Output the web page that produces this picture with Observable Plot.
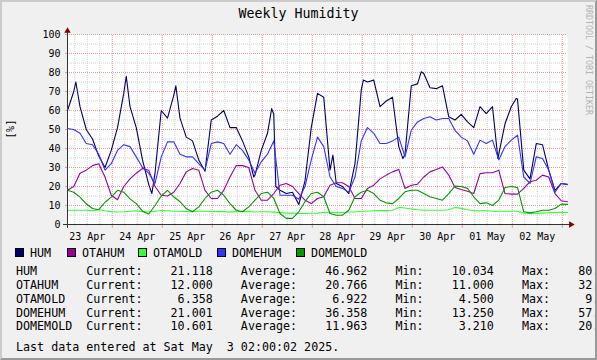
<!DOCTYPE html>
<html><head><meta charset="utf-8">
<script src="https://cdn.jsdelivr.net/npm/d3@7"></script>
<script src="https://cdn.jsdelivr.net/npm/@observablehq/plot@0.6"></script>
<style>
html,body{margin:0;padding:0;background:#f0f0f0;}
#wrap{position:relative;width:597px;height:360px;overflow:hidden;background:#f0f0f0;font-family:"DejaVu Sans Mono",monospace;color:#000;}
#wrap svg{position:absolute;left:0;top:0;}
.t{position:absolute;white-space:pre;font-size:11.68px;line-height:14px;}
.box{position:absolute;width:7px;height:7px;border:1px solid #000;}
#border{position:absolute;left:0;top:0;width:597px;height:360px;box-sizing:border-box;border-style:solid;border-width:2px;border-color:#cbcbcb #999 #999 #cbcbcb;pointer-events:none;}
</style></head>
<body><div id="wrap"></div>
<script>
// ---- data (hours after 23 Apr 02:30) ----
const gridHours = d3.range(81).map(i => i * 3);
const humHours = [0,3,4,6,9,12,15,18,21,24,27,28.2,30,33,36,39,40.5,42,45,48,51,52,54,57,60,63,66,69,72,75,78,81,84,87,89.4,90,93,96,98,99,100,102,105,108,111,114,117,120,123,126,127.4,129,132,135,138,141,142,144,147,150,153,156,159,161,162,165,168,169.8,171,174,177,180,183,186,189,192,195,198,201,204,206.6,207,210,213,215.4,216,219,222,225,228,231,234,237,240];
const humValues = [60,70,75,62,50,45,36,30,39,51,69,78,62,51,34,21,16.3,27,60,56,68,73,56,46,44,34,28,55,57,60,51,51,44,35.6,25,26,39,48,61,58,20,18,16.3,17,10.5,23,51,69,67,28.6,36.5,21.6,20,16.3,32,70.7,76,75,76,62,65,67,41,34.7,37,73,74,80.4,79.5,72,71.5,73,56.7,55,58,54,51,62,58.4,62,34.7,37,53,62,66.3,66,28.6,24,42.6,42,28.6,18,21.6,21.1];
const otaHum = [18,20,27,28.6,31,32,25,15.4,13,20,24,27,29.5,28.6,20,15.4,15,
  17,21.6,27.7,29.5,28.6,18,13.7,13.7,18,25,31,31,30,18,12.8,12.8,
  16.3,20.7,21.6,20,16.3,12.8,11,13.7,14.6,20.7,22,22,20,13.7,13.7,19,
  20.7,24,26,27.7,29,19,20.7,21.2,25,27.7,29,30.3,26,19.5,18.4,17.5,
  16.3,26.8,27.2,27.2,28.6,16.3,16,16,19,22.5,23.3,26,25,16.3,12.5,12];
const otaMold = [7.5,7.5,7.5,7.5,7.3,7.8,7.2,6.8,6.6,6.7,7.0,7.2,6.8,6.6,7.0,7.4,7.2,
  7.0,7.0,6.8,6.8,7.0,7.0,6.9,6.8,6.8,6.5,6.8,7.0,6.8,6.6,6.7,6.7,
  6.5,6.3,6.0,6.0,5.8,5.8,5.9,6.0,6.3,6.3,6.3,6.3,6.6,6.6,7.0,7.0,
  7.2,7.3,7.3,7.5,9.0,8.7,8.2,7.8,7.5,7.5,7.5,7.5,7.8,9.0,8.5,7.8,
  7.3,7.2,7.2,7.0,7.0,7.0,7.0,7.0,6.0,5.8,5.8,6.0,6.2,6.3,6.4,6.36];
const domeHum = [50.5,50,48,42.6,42,37,28.6,32,39,42,41,35.6,30,27,21.6,35.6,43.5,
  43.5,37,35.6,35.6,32,28.6,42.6,43.5,42.6,37,42,39,34,27,33,37,
  44,15.4,15.4,15.4,13.3,20,34,46,41,25,20,19,17,25,44,51,
  48,42.6,42.6,44,46,35.6,49.6,54,55.8,56.7,55,55.8,55.8,49.6,46,44,
  37,44.4,42.6,44.4,34,41,44.4,47,25,21.6,35.6,34.7,28.6,17,21.6,21.0];
const domeMold = [18,17,14.4,10.9,8.4,7.8,11.7,14.4,18,17,13.5,11,7,5.5,10,15,18,
  14.6,12,8.4,6.7,9.3,13.7,17,18,15.4,11,7.5,6.7,9.3,12.8,16.3,17,
  13.7,5.8,3.2,3.2,6.7,12,16.3,17,14.6,5.8,4.9,4.9,7.5,14.6,17,18,
  16.3,12.8,11.4,11,13.7,17.2,18,18,16.3,14.6,13.7,12.8,16.3,20.2,20,19,
  14.6,11,11.4,10,12.8,19.5,20,19.5,6.7,6.1,6.7,7.5,7.5,8.4,10.7,10.6];

const names = ["HUM","OTAHUM","OTAMOLD","DOMEHUM","DOMEMOLD"];
const colors = ["#000066","#990099","#33ff33","#3333ff","#009900"];
const current = [21.118,12.000,6.358,21.001,10.601];
const average = [46.962,20.766,6.922,36.358,11.963];
const minimum = [10.034,11.000,4.500,13.250,3.210];
const maximum = [80.402,32.000,9.625,57.312,20.410];
const yTicks = [0,10,20,30,40,50,60,70,80,90,100];
const title = "Weekly Humidity";
const yLabel = "[%]";
const lastData = "Last data entered at Sat May  3 02:00:02 2025.";
const watermark = "RRDTOOL / TOBI OETIKER";

// ---- build ----
const H = 3600000;
const t0 = Date.UTC(2025,3,23,2,30);
const t1 = t0 + 240*H;
const T = h => new Date(t0 + h*H);
const mk = (hours, vals) => hours.map((h,i) => ({t: T(h), v: vals[i]}));
const series = [
  mk(humHours, humValues),
  mk(gridHours, otaHum),
  mk(gridHours, otaMold),
  mk(gridHours, domeHum),
  mk(gridHours, domeMold)
];

const majorX = d3.utcDay.range(new Date(t0), new Date(t1));
const minorX = d3.utcHour.every(6).range(new Date(t0), new Date(t1)).filter(d => d.getUTCHours() !== 0);
const noonX = d3.utcDay.range(new Date(Date.UTC(2025,3,23)), new Date(Date.UTC(2025,4,3))).map(d => new Date(+d + 12*H));
const minorY = d3.range(5,100,10);
const majorY = d3.range(10,101,10);
const GRID = "#d2d2d2", MGRID = "#e29c9c";
const px = 0.48*H; // one pixel in time

const chart = Plot.plot({
  width: 597, height: 245,
  marginLeft: 67, marginRight: 30, marginTop: 34, marginBottom: 21,
  style: {background: "transparent", fontFamily: "'DejaVu Sans Mono', monospace", fontSize: "10px", color: "#000", overflow: "visible"},
  x: {type: "utc", domain: [new Date(t0), new Date(t1)]},
  y: {domain: [0, 100]},
  marks: [
    Plot.frame({fill: "#ffffff", stroke: "none"}),
    Plot.ruleX(minorX, {y1: 0, y2: 100, stroke: GRID, strokeDasharray: "1,1"}),
    Plot.ruleY(minorY, {x1: new Date(t0), x2: new Date(t1), stroke: GRID, strokeDasharray: "1,1"}),
    Plot.ruleX(majorX, {y1: 0, y2: 100, stroke: MGRID, strokeDasharray: "1,1"}),
    Plot.ruleY(majorY, {x1: new Date(t0), x2: new Date(t1), stroke: MGRID, strokeDasharray: "1,1"}),
    Plot.ruleX(minorX, {y1: -1.1, y2: 0, stroke: GRID}),
    Plot.ruleX(majorX, {y1: -2, y2: 0, stroke: MGRID}),
    Plot.ruleY(yTicks, {x1: new Date(t0 - 2*px), x2: new Date(t0), stroke: MGRID}),
    ...series.map((s, k) => Plot.line(s, {x: "t", y: "v", stroke: colors[k], strokeWidth: 1.1})),
    Plot.ruleX([new Date(t0)], {y1: -2.1, y2: 102.1, stroke: "#333"}),
    Plot.ruleY([0], {x1: new Date(t0 - 4*px), x2: new Date(t1 + 4*px), stroke: "#333"}),
    Plot.dot([{x: new Date(t0), y: 100}], {x: "x", y: "y", dy: -3.5, symbol: "triangle", r: 2.4, fill: "#7f0000", stroke: "none"}),
    Plot.dot([{x: new Date(t1), y: 0}], {x: "x", y: "y", dx: 3.5, symbol: "triangle", rotate: 90, r: 2.4, fill: "#7f0000", stroke: "none"}),
    Plot.axisY({ticks: yTicks, tickSize: 0, tickPadding: 7, label: null, fontSize: 10}),
    Plot.axisX({ticks: noonX, tickSize: 0, tickPadding: 8, label: null, tickFormat: d3.utcFormat("%d %b"), fontSize: 10})
  ]
});

const wrap = document.getElementById("wrap");
wrap.appendChild(chart);

function addText(txt, left, top, extra) {
  const d = document.createElement("div");
  d.className = "t";
  d.textContent = txt;
  d.style.left = left + "px";
  d.style.top = top + "px";
  if (extra) Object.assign(d.style, extra);
  wrap.appendChild(d);
  return d;
}

// title
addText(title, 0, 6, {width: "597px", textAlign: "center", fontSize: "13.3px", lineHeight: "16px"});
// y label
addText(yLabel, -10, 122, {width: "40px", textAlign: "center", fontSize: "10.5px", transform: "rotate(-90deg)"});
// watermark
addText(watermark, 584, 5, {writingMode: "vertical-rl", fontSize: "8.3px", lineHeight: "9px", color: "#b4b4b4"});

// legend
const legendX = [30, 82, 153, 232, 311];
names.forEach((n, k) => {
  const b = document.createElement("div");
  b.className = "box";
  b.style.left = (legendX[k] - 15) + "px";
  b.style.top = "248px";
  b.style.background = colors[k];
  wrap.appendChild(b);
  addText(n, legendX[k], 245.5);
});

// statistics
const f = v => v.toFixed(3).padStart(10);
names.forEach((n, k) => {
  const line = n.padEnd(10) + "Current:" + f(current[k]) + "    Average:" + f(average[k]) +
    "    Min:" + f(minimum[k]) + "    Max:" + f(maximum[k]);
  addText(line, 16, 264 + k*13.85);
});
addText(lastData, 16, 340);

const border = document.createElement("div");
border.id = "border";
wrap.appendChild(border);
</script>
</body></html>
